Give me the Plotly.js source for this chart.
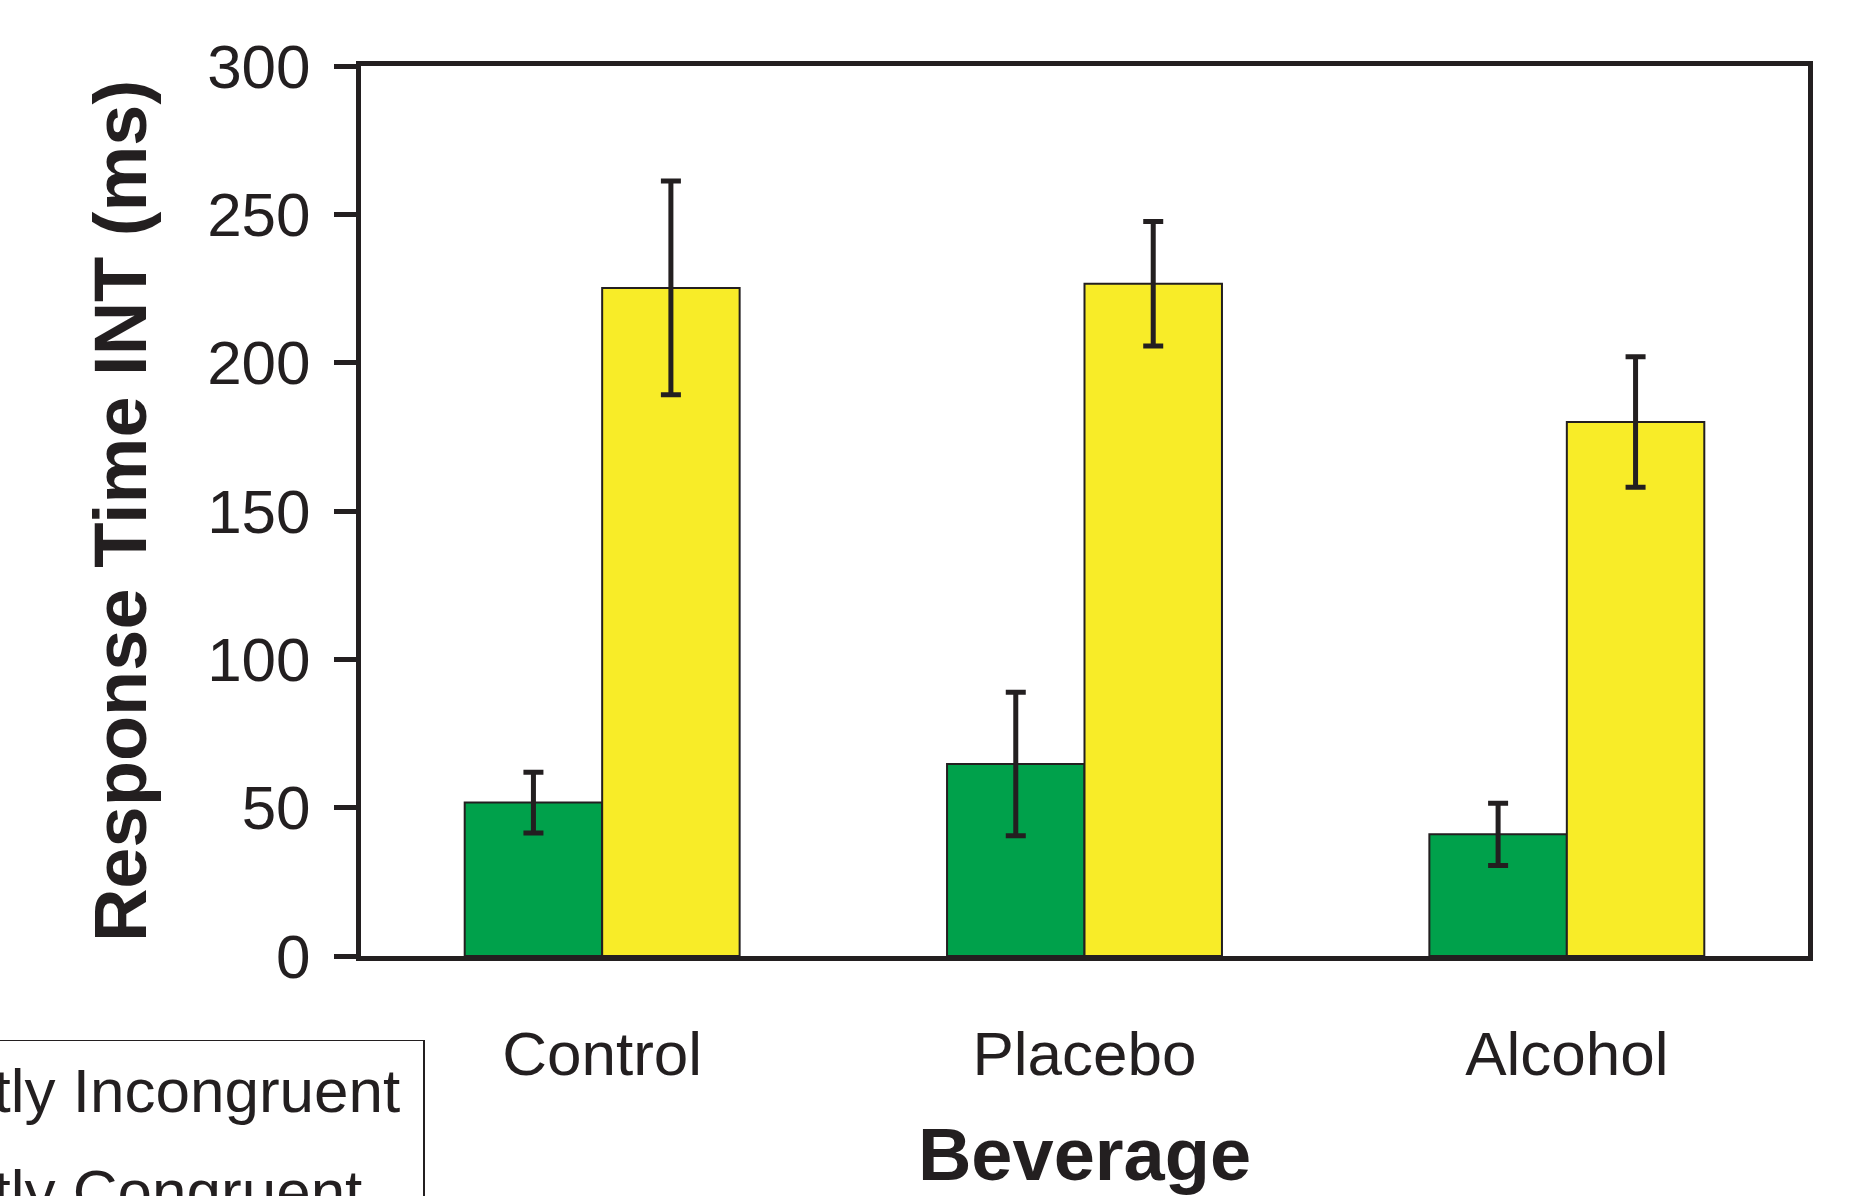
<!DOCTYPE html>
<html>
<head>
<meta charset="utf-8">
<script src="https://cdn.plot.ly/plotly-3.0.1.min.js"></script>
<style>html,body{margin:0;padding:0;background:#fff;}#chart{width:1849px;height:1196px;}</style>
</head>
<body>
<div id="chart"></div>
<script>
const categories = ["Control", "Placebo", "Alcohol"];
const seriesNames = ["Mostly Incongruent", "Mostly Congruent"];
const incongruentValues = [51.7, 64.7, 41.0];
const incongruentErrors = [10.2, 24.2, 10.5];
const congruentValues = [225.2, 226.6, 180.0];
const congruentErrors = [36.0, 21.0, 22.0];
const yTickValues = [0, 50, 100, 150, 200, 250, 300];

const ink = "#231f20";
const font = "Liberation Sans, Arial, Helvetica, sans-serif";
const pad = "\u00a0";

const traces = [
  {
    type: "bar", name: seriesNames[0] + pad, x: categories, y: incongruentValues, legendgroup: "a",
    marker: {color: "#00a14b", line: {color: ink, width: 2}},
    error_y: {type: "data", array: incongruentErrors, visible: true, color: ink, thickness: 5, width: 10}
  },
  {
    type: "bar", name: seriesNames[1] + pad, x: categories, y: congruentValues, legendgroup: "b",
    marker: {color: "#f8ec28", line: {color: ink, width: 2}},
    error_y: {type: "data", array: congruentErrors, visible: true, color: ink, thickness: 5, width: 10}
  }
];

const layout = {
  width: 1849, height: 1196,
  paper_bgcolor: "#fff", plot_bgcolor: "#fff",
  margin: {l: 361, r: 41, t: 66, b: 240, autoexpand: false},
  barmode: "group", bargap: 0.43, bargroupgap: 0,
  font: {family: font, color: ink, size: 62},
  showlegend: true,
  legend: {
    x: 0.0442, xanchor: "right", y: -0.094, yanchor: "top",
    bordercolor: ink, borderwidth: 1.5, bgcolor: "#fff",
    font: {family: font, size: 62, color: ink},
    tracegroupgap: 17
  },
  xaxis: {
    type: "category", range: [-0.5, 2.5],
    showline: true, linecolor: ink, linewidth: 5, mirror: true,
    ticks: "", showgrid: false, zeroline: false,
    tickfont: {family: font, size: 62, color: ink},
    ticklabelstandoff: 40,
    title: {text: "<b>Beverage</b>", font: {family: font, size: 74, color: ink}, standoff: 57},
    automargin: false
  },
  yaxis: {
    range: [0, 300], tickvals: yTickValues, ticktext: yTickValues.map(String),
    showline: true, linecolor: ink, linewidth: 5, mirror: true,
    ticks: "outside", ticklen: 22, tickwidth: 5, tickcolor: ink,
    showgrid: false, zeroline: false,
    tickfont: {family: font, size: 62, color: ink},
    ticklabelstandoff: 11,
    title: {text: "<b>Response Time INT (ms)</b>", font: {family: font, size: 74, color: ink}, standoff: 38},
    automargin: false
  }
};

Plotly.newPlot("chart", traces, layout, {displayModeBar: false, staticPlot: true});
</script>
</body>
</html>
